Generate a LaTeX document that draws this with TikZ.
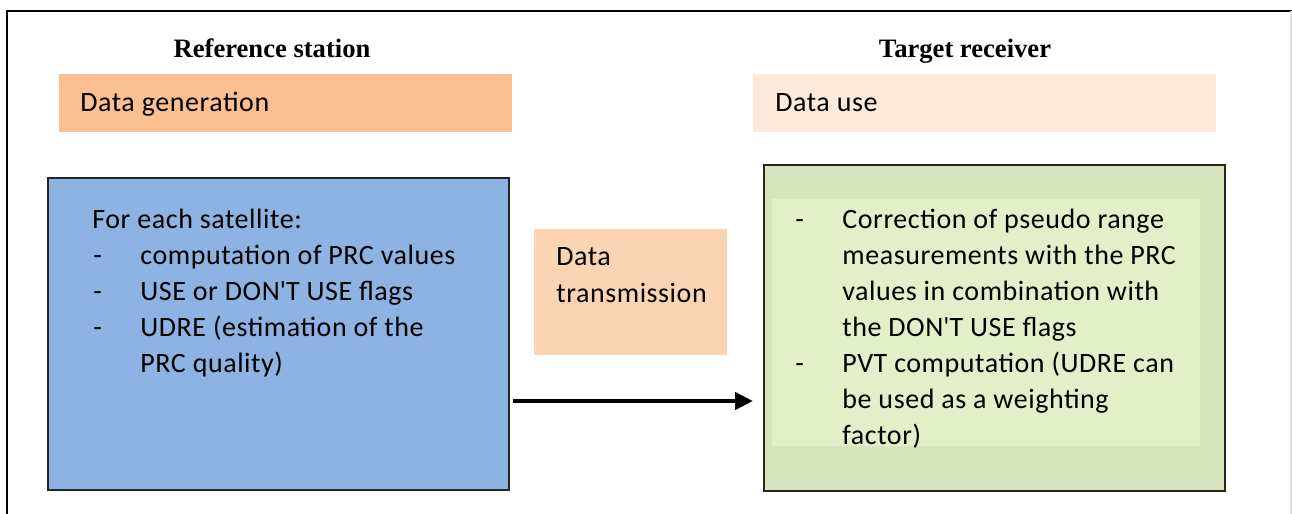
\documentclass[tikz,border=0pt]{standalone}
\usepackage{fontspec}
\setmainfont{Carlito}[LetterSpace=2]
\newfontfamily\headfont{Liberation Serif}
\usetikzlibrary{arrows.meta}

\definecolor{genorange}{HTML}{FAC090}
\definecolor{usepeach}{HTML}{FDE9D9}
\definecolor{txpeach}{HTML}{FBD4B4}
\definecolor{stationblue}{HTML}{8DB3E2}
\definecolor{rxgreen}{HTML}{D7E4BD}
\definecolor{rxgreenlight}{HTML}{E2EFC8}

\tikzset{
  heading/.style={font=\headfont\bfseries\fontsize{13.3}{16}\selectfont, anchor=base},
  body/.style={font=\fontsize{14}{18}\selectfont, anchor=base west, inner sep=0pt},
  band/.style={anchor=north west, inner sep=0pt, minimum height=29pt},
  block/.style={draw=black!85, line width=0.8pt, anchor=north west, inner sep=0pt},
  flow/.style={line width=2.4pt, -{Triangle[length=9pt,width=8.5pt]}},
}

\begin{document}
\begin{tikzpicture}[x=0.5pt, y=-0.5pt]
    \useasboundingbox (0,0) rectangle (1292,514);
    % frame round the whole figure
    \draw[line width=1.4pt] (7,514) -- (7,11) -- (1292,11);
    \draw[black!12, line width=0.6pt] (1291,11) -- (1291,514);

    % left side: reference station
    \node[heading] (refhead) at (272,57) {Reference station};
    \node[band, fill=genorange, minimum width=226.5pt] (genband) at (59,74) {};
    \node[body] (gentext) at (80,111) {Data generation};
    \node[block, fill=stationblue, minimum width=230.5pt, minimum height=156pt]
      (station) at (47,177) {};
    \node[body] (sathead) at (92,228) {For each satellite:};
    \foreach \y/\t in {264/computation of PRC values,
                       300/USE or DON\textquotesingle T USE flags,
                       336/UDRE (estimation of the,
                       372/PRC quality)} {
      \node[body] (sat\y) at (140,\y) {\t};
    }
    \foreach \y in {264, 300, 336} {
      \node[body] (satdash\y) at (93,\y) {-};
    }

    % middle: transmission
    \node[band, fill=txpeach, minimum width=96.5pt, minimum height=63pt]
      (txband) at (534,229) {};
    \node[body] (txline1) at (556,265) {Data};
    \node[body] (txline2) at (556,302) {transmission};

    % right side: target receiver
    \node[heading] (rxhead) at (965,57) {Target receiver};
    \node[band, fill=usepeach, minimum width=231.5pt] (useband) at (753,74) {};
    \node[body] (usetext) at (775,111) {Data use};
    \node[block, fill=rxgreen, minimum width=230.5pt, minimum height=163pt]
      (receiver) at (763,164) {};
    \node[band, fill=rxgreenlight, minimum width=214pt, minimum height=123.5pt]
      (rxinner) at (772,199) {};
    \foreach \y/\t in {228/Correction of pseudo range,
                       264/measurements with the PRC,
                       300/values in combination with,
                       336/the DON\textquotesingle T USE flags,
                       372/PVT computation (UDRE can,
                       408/be used as a weighting,
                       444/factor)} {
      \node[body] (rx\y) at (842,\y) {\t};
    }
    \foreach \y in {228, 372} {
      \node[body] (rxdash\y) at (795,\y) {-};
    }

    % data flow from station to receiver
    \draw[flow, shorten <=1.5pt, shorten >=5pt]
      (station.east |- 0,401) -- (receiver.west |- 0,401);
  \end{tikzpicture}
\end{document}
